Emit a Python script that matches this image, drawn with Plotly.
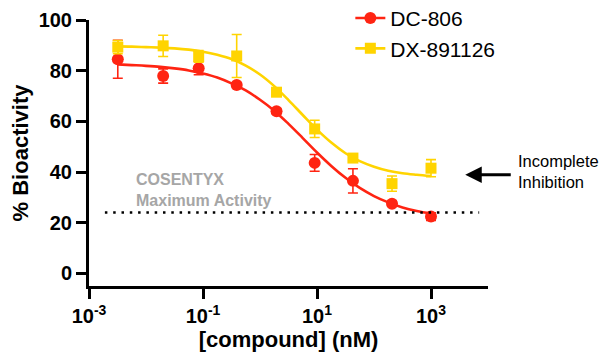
import plotly.graph_objects as go

# ---- data ----
conc_nM = [0.0032, 0.020, 0.084, 0.39, 1.95, 9.1, 42.7, 207, 1000]

dc806_mean = [84.5, 77.9, 81.0, 74.3, 64.0, 43.6, 36.5, 27.5, 22.4]
dc806_err = [7.5, 2.8, 2.6, 1.0, 1.0, 3.3, 4.8, 1.0, 1.5]

dx891126_mean = [89.3, 89.8, 85.6, 85.8, 71.5, 57.0, 45.5, 35.4, 41.5]
dx891126_err = [2.6, 4.2, 2.3, 8.5, 1.0, 3.4, 1.0, 3.0, 3.4]

# fitted curves (log10 concentration -> % bioactivity)
fit_log_conc = [-2.5, -2.25, -2.0, -1.75, -1.5, -1.25, -1.0, -0.75, -0.5, -0.25,
                0.0, 0.25, 0.5, 0.75, 1.0, 1.25, 1.5, 1.75, 2.0, 2.25, 2.5, 2.75, 3.0]
dc806_fit = [82.5, 82.2, 81.9, 81.5, 80.9, 80.1, 78.9, 77.3, 75.0, 72.2,
             68.5, 64.2, 59.0, 53.4, 47.7, 42.4, 37.7, 33.7, 30.5, 28.0, 26.0, 24.6, 23.6]
dx891126_fit = [89.6, 89.5, 89.3, 89.1, 88.8, 88.3, 87.5, 86.3, 84.6, 82.0,
                78.5, 73.9, 68.4, 62.5, 56.7, 51.6, 47.4, 44.3, 42.1, 40.5, 39.5, 38.9, 38.4]

cosentyx_max = 24  # % bioactivity reference line

x_tickvals = [0.001, 0.1, 10, 1000]
x_ticktext = ["10<sup>-3</sup>", "10<sup>-1</sup>", "10<sup>1</sup>", "10<sup>3</sup>"]
y_tickvals = [0, 20, 40, 60, 80, 100]

series_names = ["DC-806", "DX-891126"]

# ---- styles ----
RED = "#FF2412"
YEL = "#FFD400"
FONT = "Liberation Sans, Arial, sans-serif"

fit_x = [10 ** v for v in fit_log_conc]

fig = go.Figure()

# fitted curves
fig.add_trace(go.Scatter(x=fit_x, y=dc806_fit, mode="lines", line=dict(color=RED, width=2.6, shape="spline"),
                         showlegend=False, hoverinfo="skip"))
fig.add_trace(go.Scatter(x=fit_x, y=dx891126_fit, mode="lines", line=dict(color=YEL, width=2.6, shape="spline"),
                         showlegend=False, hoverinfo="skip"))

# data points with error bars
fig.add_trace(go.Scatter(x=conc_nM, y=dc806_mean, mode="markers",
                         marker=dict(symbol="circle", size=12, color=RED),
                         error_y=dict(type="data", array=dc806_err, color=RED, thickness=1.6, width=5),
                         showlegend=False))
fig.add_trace(go.Scatter(x=conc_nM, y=dx891126_mean, mode="markers",
                         marker=dict(symbol="square", size=11, color=YEL),
                         error_y=dict(type="data", array=dx891126_err, color=YEL, thickness=1.6, width=5),
                         showlegend=False))

# legend entries (line + marker)
fig.add_trace(go.Scatter(x=[None], y=[None], mode="lines+markers", name=series_names[0],
                         line=dict(color=RED, width=2.6), marker=dict(symbol="circle", size=12, color=RED)))
fig.add_trace(go.Scatter(x=[None], y=[None], mode="lines+markers", name=series_names[1],
                         line=dict(color=YEL, width=2.6), marker=dict(symbol="square", size=11, color=YEL)))

# COSENTYX maximum activity dotted line
fig.add_shape(type="line", xref="x", yref="y", x0=0.0019, x1=7000, y0=cosentyx_max, y1=cosentyx_max,
              line=dict(color="black", width=2.5, dash="2.5px,5.8px"), layer="above")

fig.add_annotation(text="<b>COSENTYX<br>Maximum Activity</b>", xref="paper", yref="y",
                   x=0.113, y=32.7, xanchor="left", yanchor="middle", align="left", showarrow=False,
                   font=dict(family=FONT, size=16, color="#A6A6A6"))

fig.add_annotation(text="Incomplete<br>Inhibition", xref="paper", yref="y",
                   x=1.07, y=40.3, xanchor="left", yanchor="middle", align="left", showarrow=False,
                   font=dict(family=FONT, size=16.5, color="black"))

fig.add_annotation(text="", xref="paper", yref="y", x=0.943, y=38.9, ax=47, ay=0,
                   showarrow=True, arrowhead=2, arrowsize=1.1, arrowwidth=3, arrowcolor="black")

fig.update_xaxes(type="log", range=[-3, 4], tickvals=x_tickvals, ticktext=x_ticktext,
                 showline=True, linewidth=3, linecolor="black", ticks="outside", ticklen=10, tickwidth=3,
                 tickcolor="black", showgrid=False, zeroline=False,
                 tickfont=dict(family=FONT, size=20, color="black", weight="bold"),
                 title=dict(text="<b>[compound] (nM)</b>", standoff=6,
                            font=dict(family=FONT, size=22, color="black")))
fig.update_yaxes(range=[-5, 100], tickvals=y_tickvals,
                 showline=True, linewidth=3, linecolor="black", ticks="outside", ticklen=10, tickwidth=3,
                 tickcolor="black", showgrid=False, zeroline=False,
                 tickfont=dict(family=FONT, size=20, color="black", weight="bold"),
                 title=dict(text="<b>% Bioactivity</b>", standoff=6,
                            font=dict(family=FONT, size=22, color="black")))

# page body has an 8px margin, so the figure is 600x355 and sits at (8, 8)
fig.update_layout(width=600, height=355, margin=dict(l=81, r=120, t=12, b=77, autoexpand=False),
                  plot_bgcolor="white", paper_bgcolor="white",
                  font=dict(family=FONT, color="black"),
                  legend=dict(x=0.655, y=1.083, xanchor="left", yanchor="top", bgcolor="rgba(0,0,0,0)",
                              font=dict(family=FONT, size=21, color="black"), tracegroupgap=0,
                              itemwidth=30))

fig.write_html("out.html")
